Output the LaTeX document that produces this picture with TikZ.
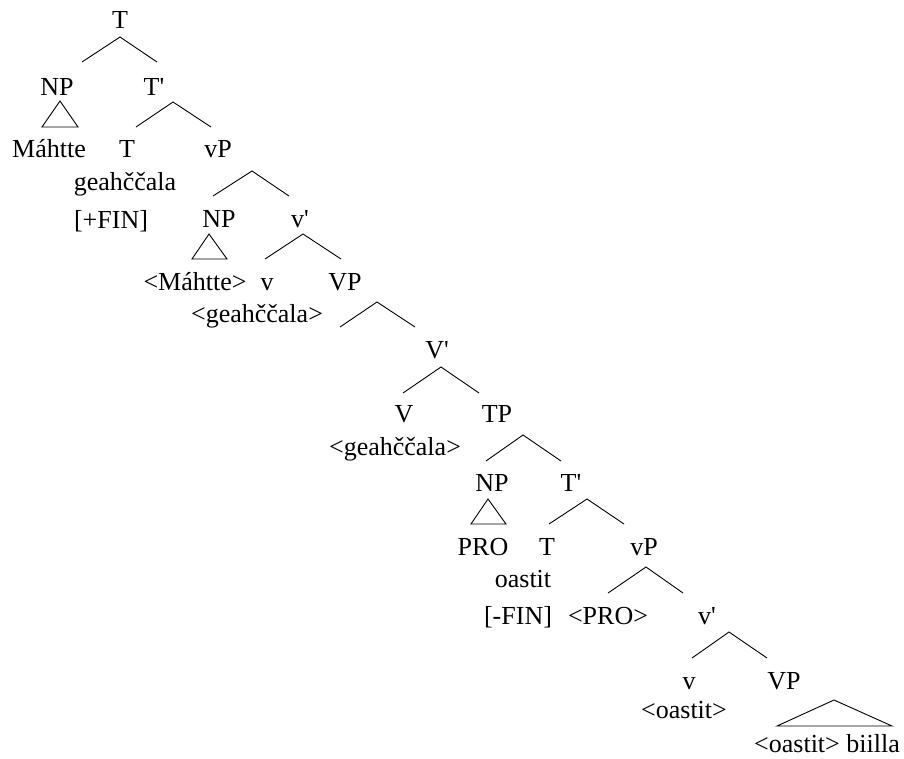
\documentclass[tikz,border=0pt]{standalone}
\usepackage{fontspec}
\setmainfont{Liberation Serif}[Ligatures=TeXOff]
\begin{document}
\begin{tikzpicture}[x=1pt,y=-1pt,
  lbl/.style={anchor=base,inner sep=0pt,font=\fontsize{26}{30}\selectfont},
  br/.style={line width=0.9pt},
  tri/.style={line width=0.9pt,line join=miter}]
\useasboundingbox (0,0) rectangle (904,758);
% labels
\node[lbl] (root) at (120,28) {T};
\node[lbl] (np1) at (57,95) {NP};
\node[lbl] (tb1) at (154,95) {T'};
\node[lbl] (mah1) at (49,157) {Máhtte};
\node[lbl] (t1) at (127,157) {T};
\node[lbl] (vp1) at (218,157) {vP};
\node[lbl] (geah1) at (125,190) {geahččala};
\node[lbl] (fin1) at (111,228) {[+FIN]};
\node[lbl] (np2) at (219,227) {NP};
\node[lbl] (vb1) at (300,227) {v'};
\node[lbl] (mah2) at (195,290) {<Máhtte>};
\node[lbl] (v1) at (267,290) {v};
\node[lbl] (VPa) at (345,290) {VP};
\node[lbl] (geah2) at (257,322) {<geahččala>};
\node[lbl] (Vb) at (437,358) {V'};
\node[lbl] (V) at (404,422) {V};
\node[lbl] (TP) at (497,422) {TP};
\node[lbl] (geah3) at (395,455) {<geahččala>};
\node[lbl] (np3) at (492,491) {NP};
\node[lbl] (tb2) at (571,491) {T'};
\node[lbl] (pro) at (483,555) {PRO};
\node[lbl] (t2) at (547,555) {T};
\node[lbl] (vp2) at (644,555) {vP};
\node[lbl] (oast1) at (523,587) {oastit};
\node[lbl] (fin2) at (518,624) {[-FIN]};
\node[lbl] (pro2) at (608,624) {<PRO>};
\node[lbl] (vb2) at (707,624) {v'};
\node[lbl] (v2) at (689,689) {v};
\node[lbl] (VPb) at (784,689) {VP};
\node[lbl] (oast2) at (684,718) {<oastit>};
\node[lbl] (last) at (827,752) {<oastit> biilla};
% branch points
\coordinate (rA) at (120,37); \coordinate (rL) at (82,62); \coordinate (rR) at (157,62);
\coordinate (aA) at (173,102); \coordinate (aL) at (136,127); \coordinate (aR) at (211,127);
\coordinate (bA) at (252,171); \coordinate (bL) at (213,196); \coordinate (bR) at (289,196);
\coordinate (cA) at (303,234); \coordinate (cL) at (265,259); \coordinate (cR) at (341,259);
\coordinate (dA) at (377,302); \coordinate (dL) at (340,327); \coordinate (dR) at (415,327);
\coordinate (eA) at (441,367); \coordinate (eL) at (403,393); \coordinate (eR) at (479,393);
\coordinate (fA) at (523,435); \coordinate (fL) at (486,461); \coordinate (fR) at (561,461);
\coordinate (gA) at (587,499); \coordinate (gL) at (549,524); \coordinate (gR) at (624,524);
\coordinate (hA) at (646,567); \coordinate (hL) at (608,593); \coordinate (hR) at (683,593);
\coordinate (iA) at (729,632); \coordinate (iL) at (692,658); \coordinate (iR) at (767,658);
\foreach \p in {r,a,b,c,d,e,f,g,h,i}
  \draw[br] (\p L) -- (\p A) -- (\p R);
% triangles
\coordinate (t1A) at (60,101); \coordinate (t1L) at (42,127); \coordinate (t1R) at (78,127);
\coordinate (t2A) at (209,234); \coordinate (t2L) at (192,259); \coordinate (t2R) at (227,259);
\coordinate (t3A) at (488,499); \coordinate (t3L) at (471,524); \coordinate (t3R) at (506,524);
\coordinate (t4A) at (834,700); \coordinate (t4L) at (777,726); \coordinate (t4R) at (892,726);
\foreach \p in {t1,t2,t3,t4}
  \draw[tri] (\p A) -- (\p L) -- (\p R) -- cycle;
\end{tikzpicture}
\end{document}
